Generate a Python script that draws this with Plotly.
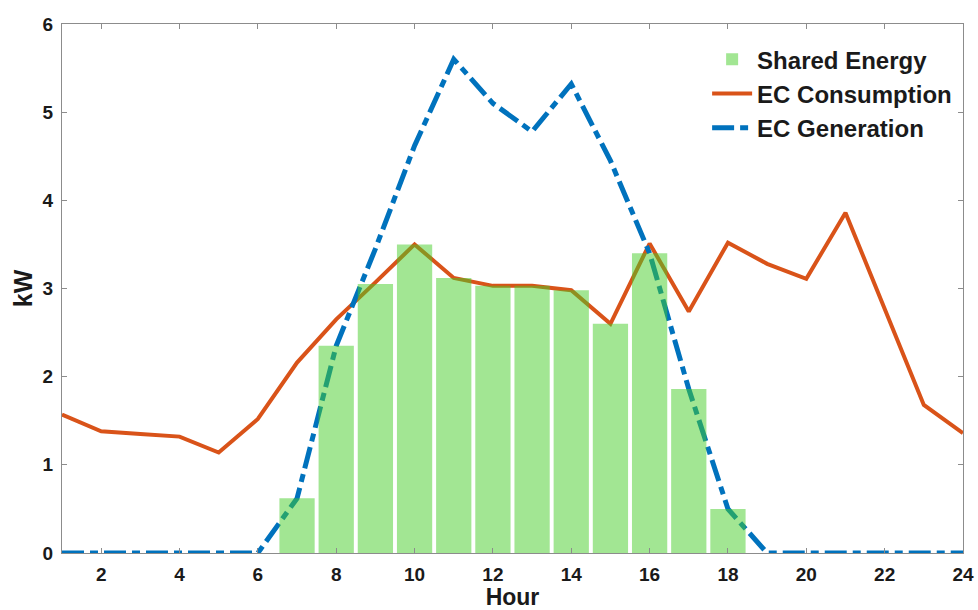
import plotly.graph_objects as go

# Hourly profile of the energy community
hours = list(range(1, 25))
consumption = [1.57, 1.38, 1.35, 1.32, 1.14, 1.52, 2.16, 2.65, 3.07, 3.50,
               3.12, 3.03, 3.03, 2.98, 2.60, 3.51, 2.74, 3.52, 3.28, 3.11,
               3.86, 2.78, 1.68, 1.36]
generation = [0, 0, 0, 0, 0, 0, 0.62, 2.35, 3.45, 4.62,
              5.60, 5.10, 4.78, 5.32, 4.45, 3.40, 1.86, 0.50, 0, 0,
              0, 0, 0, 0]
shared_hours = [7, 8, 9, 10, 11, 12, 13, 14, 15, 16, 17, 18]
shared = [0.62, 2.35, 3.05, 3.50, 3.12, 3.03, 3.03, 2.98, 2.60, 3.40, 1.86, 0.50]

x_ticks = list(range(2, 25, 2))
y_ticks = list(range(0, 7))

FONT = "Liberation Sans"
INK = "#1a1a1a"

fig = go.Figure()

fig.add_trace(go.Scatter(
    x=hours, y=consumption, mode="lines", name="EC Consumption",
    line=dict(color="#D95319", width=4), legendrank=2,
))
fig.add_trace(go.Scatter(
    x=hours, y=generation, mode="lines", name="EC Generation",
    line=dict(color="#0072BD", width=5, dash="22px,6px,8px,6px"), legendrank=3,
))
# Bars sit on an overlaid axis pair so they are painted above the lines
fig.add_trace(go.Bar(
    x=shared_hours, y=shared, name="Shared Energy", width=0.9,
    marker=dict(color="rgba(70,205,40,0.5)", line=dict(width=0)),
    xaxis="x2", yaxis="y2", legendrank=1,
))

axis_common = dict(
    showgrid=False, zeroline=False, showline=True, linecolor="#8c8c8c",
    linewidth=1, mirror="ticks", ticks="inside", ticklen=5,
    tickcolor="#8c8c8c", automargin=False,
    tickfont=dict(family=FONT, size=19, color=INK, weight="bold"),
)

fig.update_layout(
    width=978, height=610,
    margin=dict(l=62, r=15, t=24, b=57),
    paper_bgcolor="white", plot_bgcolor="white",
    font=dict(family=FONT, color=INK),
    barmode="overlay",
    xaxis=dict(range=[1, 24], tickvals=x_ticks, ticklabelstandoff=4,
               title=dict(text="Hour", standoff=1,
                          font=dict(family=FONT, size=23, color=INK, weight="bold")),
               **axis_common),
    yaxis=dict(range=[0, 6], tickvals=y_ticks, ticklabelstandoff=4,
               title=dict(text="kW", standoff=2,
                          font=dict(family=FONT, size=25, color=INK, weight="bold")),
               **axis_common),
    xaxis2=dict(range=[1, 24], overlaying="x", visible=False),
    yaxis2=dict(range=[0, 6], overlaying="y", visible=False),
    legend=dict(
        x=0.716, xanchor="left", y=0.975, yanchor="top",
        bgcolor="rgba(0,0,0,0)", borderwidth=0,
        font=dict(family=FONT, size=24, color=INK, weight="bold"),
        tracegroupgap=0, itemwidth=40,
    ),
    showlegend=True,
)

fig.write_html("out.html")
